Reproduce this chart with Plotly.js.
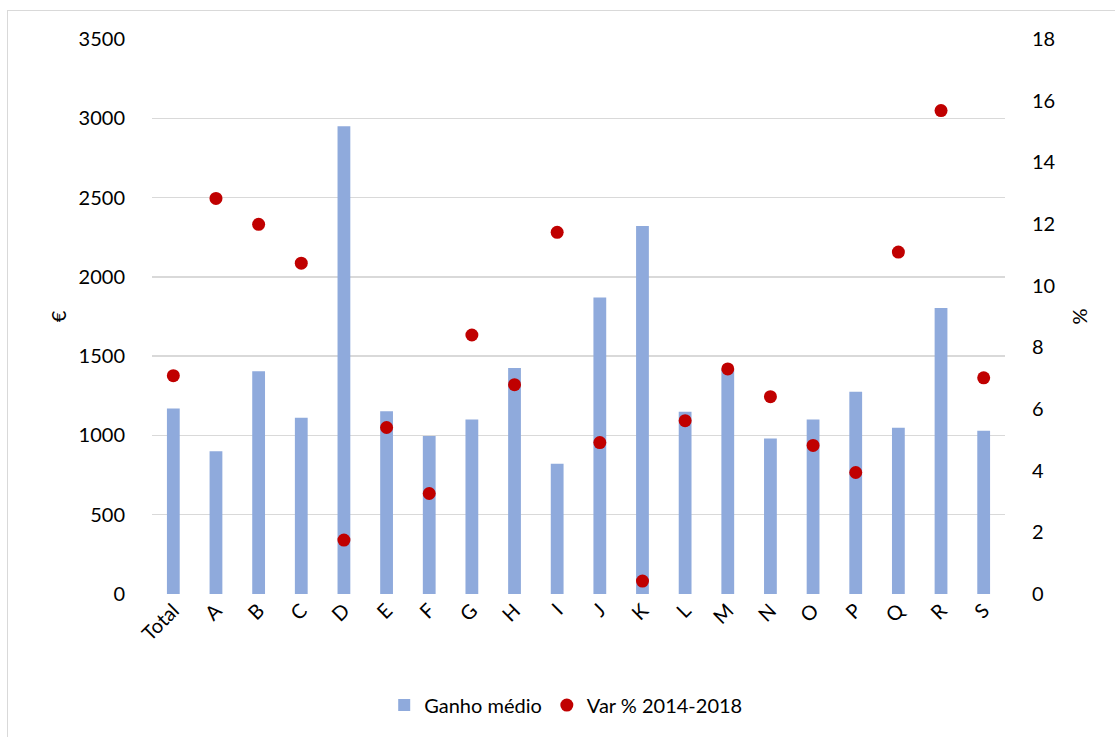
<!DOCTYPE html>
<html><head><meta charset="utf-8">
<script src="https://cdn.plot.ly/plotly-3.0.1.min.js"></script>
<style>
html,body{margin:0;padding:0;background:#fff;}
#frame{position:absolute;left:7px;top:10px;width:1120px;height:740px;border:1.5px solid #d9d9d9;box-sizing:border-box;pointer-events:none;}
#chart{width:1115px;height:737px;}
</style></head>
<body>
<div id="chart"></div>
<div id="frame"></div>
<script>
const categories = ["Total","A","B","C","D","E","F","G","H","I","J","K","L","M","N","O","P","Q","R","S"];
const ganhoMedio = [1170, 900, 1405, 1112, 2950, 1152, 997, 1100, 1426, 822, 1870, 2320, 1150, 1414, 980, 1100, 1275, 1048, 1803, 1030];
const varPct = [7.08, 12.83, 11.99, 10.73, 1.75, 5.40, 3.26, 8.40, 6.79, 11.73, 4.91, 0.42, 5.62, 7.30, 6.40, 4.82, 3.94, 11.09, 15.68, 7.01];
const leftTicks = [0,500,1000,1500,2000,2500,3000,3500];
const rightTicks = [0,2,4,6,8,10,12,14,16,18];

const font = "Lato, 'Open Sans', 'DejaVu Sans', sans-serif";
const data = [
  {type:'bar', x:categories, y:ganhoMedio, name:'Ganho médio', marker:{color:'#8faadc'}, width:0.3, yaxis:'y'},
  {type:'scatter', mode:'markers', x:categories, y:varPct, name:'Var % 2014-2018', marker:{color:'#c00000', size:13}, yaxis:'y2'}
];
const layout = {
  width:1115, height:737,
  margin:{l:152, r:110, t:39, b:141},
  paper_bgcolor:'#fff', plot_bgcolor:'#fff',
  font:{family:font, size:20, color:'#000'},
  showlegend:true,
  legend:{orientation:'h', x:0.485, xanchor:'center', y:-0.165, yanchor:'top', font:{size:20}, itemwidth:30, traceorder:'normal'},
  xaxis:{type:'category', tickangle:-45, showgrid:false, zeroline:false, showline:false, ticks:'', tickfont:{size:20}, range:[-0.5,19.5]},
  yaxis:{range:[0,3500], tickvals:leftTicks, ticktext:leftTicks.map(String), showgrid:true, gridcolor:'#d9d9d9', gridwidth:1.5, zeroline:false, showline:false, ticks:'outside', ticklen:22, tickcolor:'rgba(0,0,0,0)', title:{text:'€', standoff:6, font:{size:20}}},
  yaxis2:{range:[0,18], tickvals:rightTicks, overlaying:'y', side:'right', showgrid:false, zeroline:false, showline:false, ticks:'outside', ticklen:22, tickcolor:'rgba(0,0,0,0)', title:{text:'%', standoff:18, font:{size:20}}}
};
Plotly.newPlot('chart', data, layout, {displayModeBar:false, staticPlot:true});
</script>
</body></html>
